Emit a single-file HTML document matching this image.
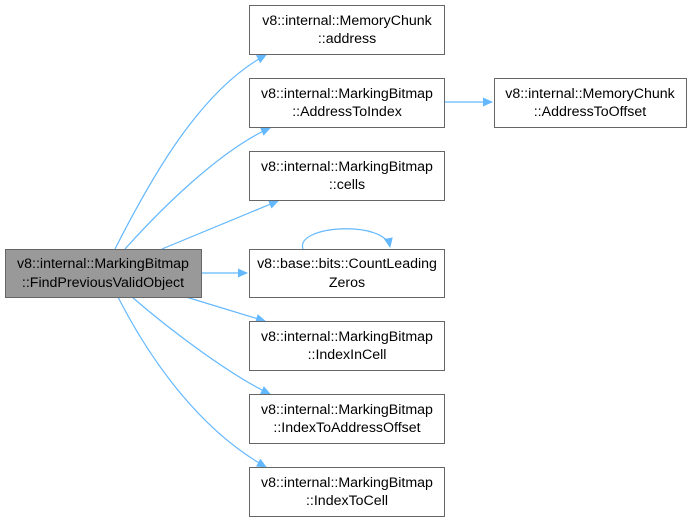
<!DOCTYPE html>
<html><head><meta charset="utf-8"><style>
html,body{margin:0;padding:0;background:#fff;width:692px;height:523px;overflow:hidden}
text{font-family:"Liberation Sans","DejaVu Sans",sans-serif;font-size:14.2px;fill:#000}
</style></head><body>
<svg width="692" height="523" viewBox="0 0 692 523" xmlns="http://www.w3.org/2000/svg">
<defs><marker id="a" markerWidth="10" markerHeight="10" refX="9" refY="5" orient="auto" markerUnits="userSpaceOnUse"><path d="M0,0.5 L10,5 L0,9.5 Z" fill="#63b8ff"/></marker></defs>
<g fill="none" stroke="#63b8ff" stroke-width="1.2" marker-end="url(#a)">
<path d="M115,249 C150,180 200,90 266,55"/>
<path d="M125,249 C160,210 220,150 270,128"/>
<path d="M162,249 L278,201"/>
<path d="M202,273 L247,273"/>
<path d="M186,297 L265,321"/>
<path d="M132,297 C170,330 230,375 270,394"/>
<path d="M118,297 C150,360 200,430 266,467"/>
<path d="M445,102 L492,102"/>
<path d="M303,249 C295,225 385,220 390,247"/>
</g>
<g stroke="#666" stroke-width="1" fill="#fff">
<rect x="5.5" y="249.5" width="196" height="48" fill="#999"/>
<rect x="249.5" y="5.5" width="195" height="49"/>
<rect x="249.5" y="78.5" width="195" height="49"/>
<rect x="249.5" y="151.5" width="195" height="49"/>
<rect x="249.5" y="249.5" width="195" height="48"/>
<rect x="249.5" y="321.5" width="195" height="49"/>
<rect x="249.5" y="394.5" width="195" height="49"/>
<rect x="249.5" y="467.5" width="195" height="49"/>
<rect x="494.5" y="78.5" width="192" height="49"/>
</g>
<g text-anchor="middle">
<text x="103" y="268">v8::internal::MarkingBitmap</text><text x="103" y="287">::FindPreviousValidObject</text>
<text x="347" y="25">v8::internal::MemoryChunk</text><text x="347" y="43">::address</text>
<text x="347" y="98">v8::internal::MarkingBitmap</text><text x="347" y="116">::AddressToIndex</text>
<text x="347" y="171">v8::internal::MarkingBitmap</text><text x="347" y="189">::cells</text>
<text x="347" y="268">v8::base::bits::CountLeading</text><text x="347" y="287">Zeros</text>
<text x="347" y="341">v8::internal::MarkingBitmap</text><text x="347" y="359">::IndexInCell</text>
<text x="347" y="414">v8::internal::MarkingBitmap</text><text x="347" y="432">::IndexToAddressOffset</text>
<text x="347" y="487">v8::internal::MarkingBitmap</text><text x="347" y="505">::IndexToCell</text>
<text x="590" y="98">v8::internal::MemoryChunk</text><text x="590" y="116">::AddressToOffset</text>
</g>
</svg>
</body></html>
